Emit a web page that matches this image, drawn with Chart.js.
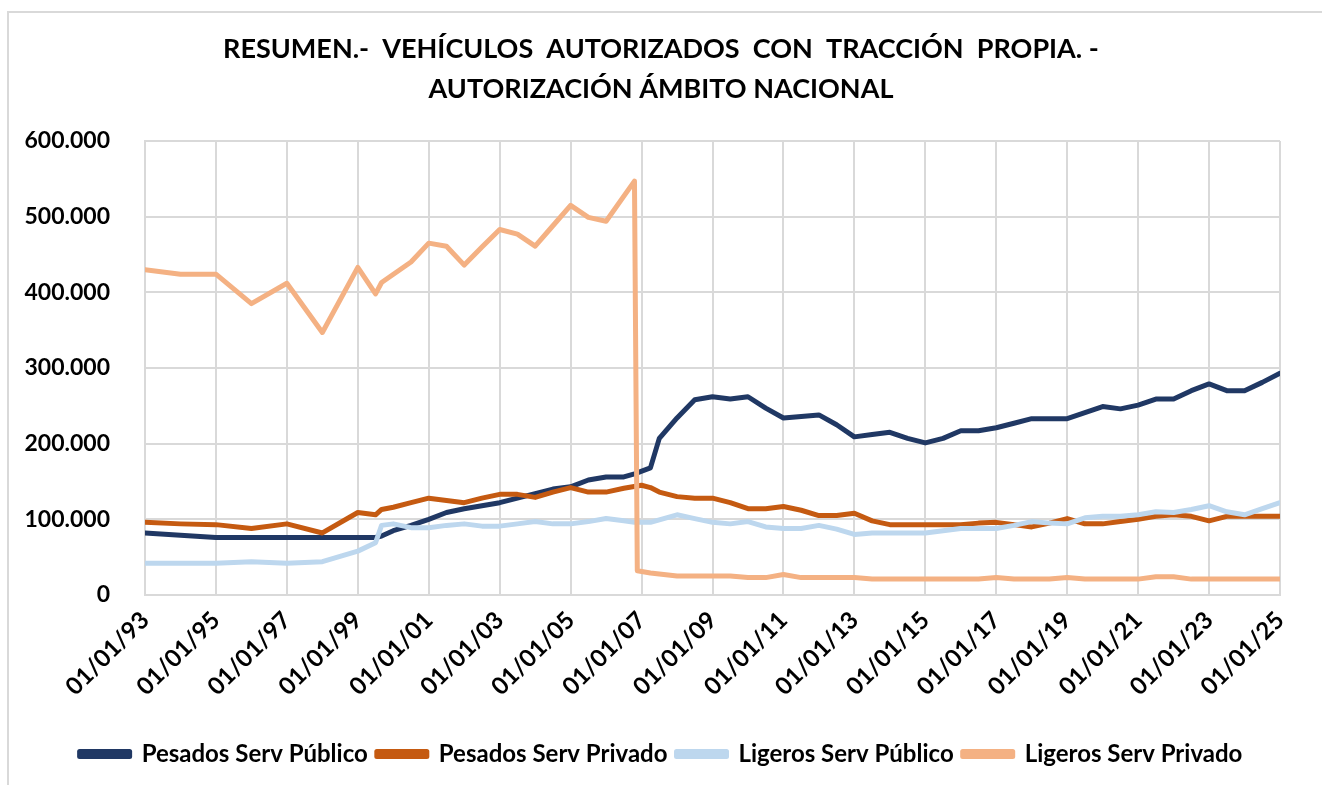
<!DOCTYPE html>
<html>
<head>
<meta charset="utf-8">
<script src="https://cdn.jsdelivr.net/npm/chart.js@4.4.1/dist/chart.umd.min.js"></script>
<style>
  html, body { margin: 0; padding: 0; background: #ffffff; }
  #wrap { position: relative; width: 1322px; height: 785px; overflow: hidden; background: #fff; }
  #frame { position: absolute; left: 7px; top: 11px; width: 1400px; height: 900px; border-left: 2px solid #d9d9d9; border-top: 2px solid #d9d9d9; }
  canvas { position: absolute; left: 0; top: 0; }
</style>
</head>
<body>
<div id="wrap">
  <div id="frame"></div>
  <canvas id="c" width="1322" height="785"></canvas>
</div>
<script>
// Dates as decimal years
const dates = [1993, 1994, 1995, 1996, 1997, 1998, 1999, 1999.5, 1999.67,
  2000, 2000.5, 2001, 2001.5, 2002, 2002.5, 2003, 2003.5, 2004, 2004.5, 2005, 2005.5, 2006, 2006.5,
  2006.8, 2006.88, 2007, 2007.25, 2007.5,
  2008, 2008.5, 2009, 2009.5, 2010, 2010.5, 2011, 2011.5, 2012, 2012.5, 2013, 2013.5, 2014, 2014.5,
  2015, 2015.5, 2016, 2016.5, 2017, 2017.5, 2018, 2018.5, 2019, 2019.5, 2020, 2020.5, 2021, 2021.5,
  2022, 2022.5, 2023, 2023.5, 2024, 2024.5, 2025];

const seriesNames = ['Pesados Serv Público', 'Pesados Serv Privado', 'Ligeros Serv Público', 'Ligeros Serv Privado'];

const pesadosPublico = [82000, 79000, 76000, 76000, 76000, 76000, 76000, 76000, 78000,
  85000, 92000, 100000, 109000, 114000, 118000, 122000, 128000, 134000, 140000, 143000, 152000, 156000, 156000,
  160000, null, null, 168000, 207000,
  234000, 258000, 262000, 259000, 262000, 247000, 234000, 236000, 238000, 225000, 209000, 212000, 215000, 207000,
  201000, 207000, 217000, 217000, 221000, 227000, 233000, 233000, 233000, 241000, 249000, 246000, 251000, 259000,
  259000, 270000, 279000, 270000, 270000, 281000, 293000];

const pesadosPrivado = [96000, 94000, 93000, 88000, 94000, 82000, 109000, 106000, 113000,
  116000, 122000, 128000, 125000, 122000, 128000, 133000, 133000, 129000, 136000, 142000, 136000, 136000, 141000,
  null, null, 145000, 142000, 136000,
  130000, 128000, 128000, 122000, 114000, 114000, 117000, 112000, 105000, 105000, 108000, 98000, 93000, 93000,
  93000, 93000, 93000, 95000, 96000, 93000, 90000, 95000, 101000, 94000, 94000, 97000, 100000, 104000,
  106000, 104000, 98000, 104000, 104000, 104000, 104000];

const ligerosPublico = [42000, 42000, 42000, 44000, 42000, 44000, 58000, 69000, 92000,
  94000, 89000, 89000, 92000, 94000, 91000, 91000, 94000, 97000, 94000, 94000, 97000, 101000, 98000,
  96000, null, null, 96000, null,
  106000, 101000, 96000, 94000, 97000, 90000, 88000, 88000, 92000, 87000, 80000, 82000, 82000, 82000,
  82000, 85000, 88000, 88000, 88000, 92000, 97000, 95000, 94000, 102000, 104000, 104000, 106000, 110000,
  109000, 113000, 118000, 110000, 106000, 114000, 122000];

const ligerosPrivado = [430000, 424000, 424000, 385000, 412000, 347000, 433000, 398000, 413000,
  null, 440000, 465000, 461000, 436000, 460000, 483000, 477000, 461000, 488000, 515000, 499000, 494000, null,
  547000, 32000, null, 29000, null,
  25000, 25000, 25000, 25000, 23000, 23000, 27000, 23000, 23000, 23000, 23000, 21000, 21000, 21000,
  21000, 21000, 21000, 21000, 23000, 21000, 21000, 21000, 23000, 21000, 21000, 21000, 21000, 24000,
  24000, 21000, 21000, 21000, 21000, 21000, 21000];

const tickYears = [1993, 1995, 1997, 1999, 2001, 2003, 2005, 2007, 2009, 2011, 2013, 2015, 2017, 2019, 2021, 2023, 2025];
const yTicks = [0, 100000, 200000, 300000, 400000, 500000, 600000];

const colors = ['#203864', '#C55A11', '#BDD7EE', '#F4B183'];
const allSeries = [pesadosPublico, pesadosPrivado, ligerosPublico, ligerosPrivado];

function toPoints(vals) {
  return dates.map((d, i) => ({ x: d, y: vals[i] }));
}
function fmtThousands(v) {
  return String(Math.round(v)).replace(/\B(?=(\d{3})+(?!\d))/g, '.');
}

const FONT = 'Lato, "Open Sans", sans-serif';

const datasets = allSeries.map((s, i) => ({
  label: seriesNames[i],
  data: toPoints(s),
  borderColor: colors[i],
  backgroundColor: colors[i],
  borderWidth: 5,
  pointRadius: 0,
  tension: 0,
  spanGaps: true,
  borderJoinStyle: 'round',
  borderCapStyle: 'round',
  order: allSeries.length - 1 - i
}));

new Chart(document.getElementById('c'), {
  type: 'line',
  data: { datasets },
  options: {
    responsive: false,
    animation: false,
    layout: { padding: { left: 10, right: 10, top: 10, bottom: 9 } },
    plugins: {
      title: {
        display: true,
        text: ['RESUMEN.-  VEHÍCULOS  AUTORIZADOS  CON  TRACCIÓN  PROPIA. -', 'AUTORIZACIÓN ÁMBITO NACIONAL'],
        color: '#000',
        font: { family: FONT, size: 27, weight: 'bold', lineHeight: 1.5 },
        padding: { top: 19, bottom: 31 }
      },
      legend: {
        position: 'bottom',
        labels: {
          color: '#000',
          font: { family: FONT, size: 24, weight: 'bold' },
          boxWidth: 50,
          boxHeight: 5,
          padding: 9,
          sort: (a, b) => a.datasetIndex - b.datasetIndex
        }
      },
      tooltip: { enabled: false }
    },
    scales: {
      x: {
        type: 'linear',
        min: 1993,
        max: 2025,
        afterBuildTicks: (s) => { s.ticks = tickYears.map(v => ({ value: v })); },
        afterFit: (s) => { s.height = 138; },
        grid: { color: '#d9d9d9', lineWidth: 2, drawTicks: false, tickLength: 0 },
        border: { color: '#d9d9d9', width: 2 },
        ticks: {
          autoSkip: false,
          maxRotation: 45,
          minRotation: 45,
          padding: 11,
          color: '#000',
          font: { family: FONT, size: 24, weight: 'bold' },
          callback: (v) => '01/01/' + String(v).slice(2)
        }
      },
      y: {
        min: 0,
        max: 600000,
        afterBuildTicks: (s) => { s.ticks = yTicks.map(v => ({ value: v })); },
        afterFit: (s) => { s.width = 135; },
        grid: { color: '#d9d9d9', lineWidth: 2, drawTicks: false, tickLength: 0 },
        border: { color: '#d9d9d9', width: 2 },
        ticks: {
          padding: 35,
          color: '#000',
          font: { family: FONT, size: 23, weight: 'bold' },
          callback: (v) => fmtThousands(v)
        }
      },
      spacer: {
        type: 'linear',
        position: 'right',
        display: true,
        afterFit: (s) => { s.width = 32; },
        grid: { display: false, drawOnChartArea: false },
        border: { display: false },
        ticks: { display: false }
      }
    }
  }
});
</script>
</body>
</html>
